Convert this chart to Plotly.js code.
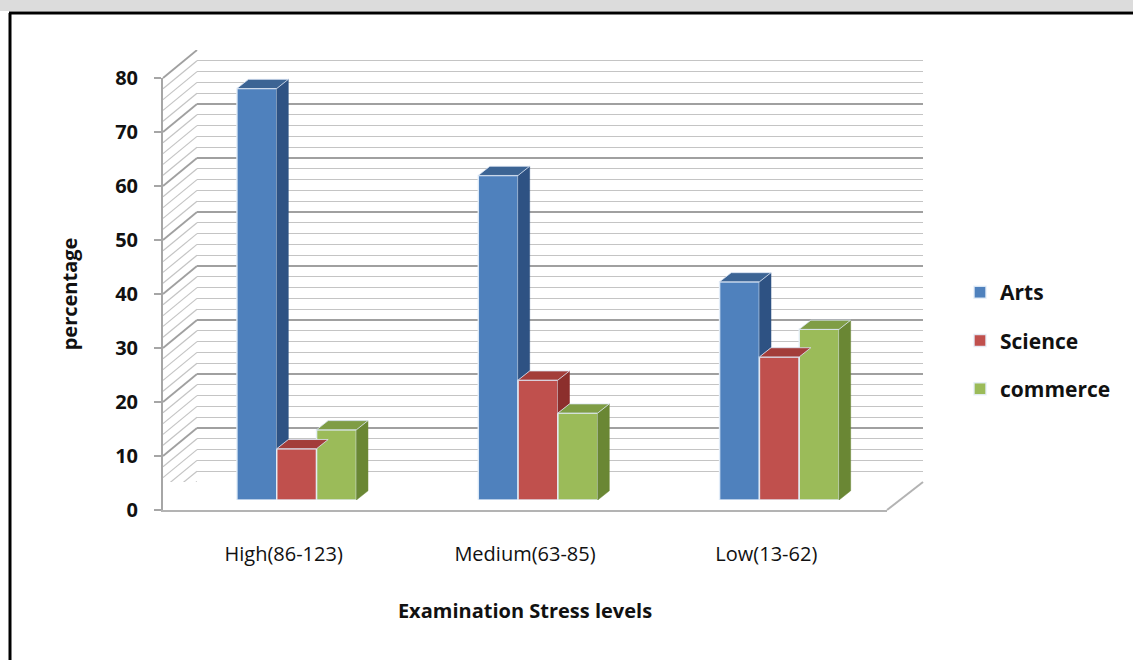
<!DOCTYPE html>
<html>
<head>
<meta charset="utf-8">
<script src="https://cdn.plot.ly/plotly-3.0.1.min.js"></script>
<style>html,body{margin:0;padding:0;background:#fff;overflow:hidden;}#chart{width:1133px;height:660px;}</style>
</head>
<body>
<div id="chart"></div>
<script>
// ---- data ----
const categories = ['High(86-123)', 'Medium(63-85)', 'Low(13-62)'];
const seriesNames = ['Arts', 'Science', 'commerce'];
const arts = [76.2, 60.1, 40.4];
const science = [9.5, 22.2, 26.5];
const commerce = [13.0, 16.1, 31.6];
const yTicks = [0, 10, 20, 30, 40, 50, 60, 70, 80];

// ---- styling / layout helpers ----
const seriesValues = [arts, science, commerce];
const frontColors = ['#4f81bd', '#c0504d', '#9bbb59'];
const sideColors = ['#2e5283', '#8c2f2c', '#6a8734'];
const topColors = ['#3c6494', '#a33d3a', '#7f9d45'];

const W = 1133, H = 660, ML = 150, MR = 200, MT = 40, MB = 140;
const PW = W - ML - MR, PH = H - MT - MB;
const px = x => (x - ML) / PW;
const py = y => (H - MB - y) / PH;

const idx = categories.map((c, i) => i);
const bw = 0.165;      // bar slot width (category units)
const dx = 0.048;      // depth offset in x (category units)
const dy = 1.7;        // depth offset in y (value units)

const traces = [];
traces.push({type: 'scatter', x: [null], y: [null], xaxis: 'x', yaxis: 'y', showlegend: false, hoverinfo: 'skip'});
traces.push({type: 'scatter', x: [null], y: [null], xaxis: 'x2', yaxis: 'y2', showlegend: false, hoverinfo: 'skip'});

seriesNames.forEach((name, k) => {
  traces.push({
    type: 'bar', name: name, x: idx, y: seriesValues[k],
    xaxis: 'x3', yaxis: 'y3', width: bw, offset: -1.5 * bw + k * bw,
    legendgroup: name,
    marker: {color: frontColors[k], line: {color: 'rgba(230,240,250,0.9)', width: 1.5}},
    hovertemplate: name + ': %{y}<extra></extra>'
  });
});

seriesNames.forEach((name, k) => {
  const vals = seriesValues[k];
  const sx = [], sy = [], tx = [], ty = [];
  idx.forEach(i => {
    const xl = i - 1.5 * bw + k * bw;
    const xr = xl + bw;
    const h = vals[i];
    let yb = 0;
    if (k < seriesValues.length - 1) yb = seriesValues[k + 1][i];
    if (yb < h) {
      sx.push(xr, xr, xr + dx, xr + dx, xr, null);
      sy.push(yb, h, h + dy, yb + dy, yb, null);
    }
    tx.push(xl, xr, xr + dx, xl + dx, xl, null);
    ty.push(h, h, h + dy, h + dy, h, null);
  });
  traces.push({type: 'scatter', mode: 'lines', x: sx, y: sy, xaxis: 'x3', yaxis: 'y3',
    fill: 'toself', fillcolor: sideColors[k], line: {width: 0.5, color: sideColors[k]},
    showlegend: false, hoverinfo: 'skip'});
  traces.push({type: 'scatter', mode: 'lines', x: tx, y: ty, xaxis: 'x3', yaxis: 'y3',
    fill: 'toself', fillcolor: topColors[k], line: {width: 1, color: 'rgba(220,230,245,0.8)'},
    showlegend: false, hoverinfo: 'skip'});
});

const shapes = [];
// top grey band
shapes.push({type: 'rect', xref: 'paper', yref: 'paper', x0: px(0), x1: px(W + 20), y0: py(11), y1: py(-5),
  fillcolor: '#dcdcdc', line: {width: 0}, layer: 'below'});
// chart border (only left and top edges are inside the picture)
shapes.push({type: 'line', xref: 'paper', yref: 'paper', x0: px(10), x1: px(10), y0: py(H + 20), y1: py(13),
  line: {color: '#000', width: 3}});
shapes.push({type: 'line', xref: 'paper', yref: 'paper', x0: px(9), x1: px(W + 20), y0: py(13), y1: py(13),
  line: {color: '#000', width: 3}});
// white strip at the right edge (the frame continues beyond the picture)
shapes.push({type: 'rect', xref: 'paper', yref: 'paper', x0: px(W - 8), x1: px(W + 20), y0: py(H + 20), y1: py(15),
  fillcolor: '#ffffff', line: {width: 0}, layer: 'above'});
// left side wall diagonals
for (let v = 0; v <= 80; v += 2) {
  const major = v % 10 === 0;
  shapes.push({type: 'line', xref: 'paper', x0: px(163), x1: px(197), yref: 'y2', ysizemode: 'pixel',
    yanchor: v, y0: -28, y1: 0, layer: 'below',
    line: {color: major ? '#a0a0a0' : '#c4c4c4', width: major ? 1.8 : 1.2}});
}
// floor right edge
shapes.push({type: 'line', xref: 'paper', yref: 'paper', x0: px(887), y0: py(510), x1: px(923), y1: py(482),
  line: {color: '#b3b3b3', width: 2}, layer: 'below'});

const font = 'Open Sans, Noto Sans, sans-serif';
const layout = {
  width: W, height: H,
  margin: {l: ML, r: MR, t: MT, b: MB},
  paper_bgcolor: '#ffffff', plot_bgcolor: 'rgba(0,0,0,0)',
  font: {family: font, color: '#111'},
  barmode: 'overlay',
  showlegend: true,
  legend: {x: px(960), y: py(272), xanchor: 'left', yanchor: 'top',
    font: {size: 21, weight: 'bold', color: '#111'}, tracegroupgap: 18, bgcolor: 'rgba(0,0,0,0)', borderwidth: 0},
  xaxis: {domain: [px(163), px(887)], range: [-0.5, 2.5], anchor: 'y',
    tickvals: idx, ticktext: categories, ticks: '', showgrid: false, zeroline: false,
    showline: true, linecolor: '#b3b3b3', linewidth: 2, tickfont: {size: 20, color: '#111'},
    ticklabelstandoff: 25,
    title: {text: 'Examination Stress levels', font: {size: 20, weight: 'bold', color: '#111'}, standoff: 38},
    fixedrange: true},
  yaxis: {domain: [py(510), py(78)], range: [0, 80], anchor: 'x',
    tickvals: yTicks, ticks: 'outside', ticklen: 7, tickcolor: '#a6a6a6', tickwidth: 1.5,
    showgrid: false, zeroline: false, showline: true, linecolor: '#a6a6a6', linewidth: 2,
    tickfont: {size: 20, weight: 'bold', color: '#111'}, ticklabelstandoff: 12,
    title: {text: 'percentage', font: {size: 20, weight: 'bold', color: '#111'}, standoff: 32},
    fixedrange: true},
  xaxis2: {domain: [px(197), px(923)], range: [0, 1], anchor: 'y2', showgrid: false,
    showticklabels: false, zeroline: false, showline: false, ticks: '', fixedrange: true},
  yaxis2: {domain: [py(482), py(50)], range: [0, 80], anchor: 'x2', dtick: 10,
    showgrid: true, gridcolor: '#a0a0a0', gridwidth: 1.8,
    minor: {dtick: 2, showgrid: true, gridcolor: '#c4c4c4', gridwidth: 1.2},
    showticklabels: false, zeroline: false, showline: false, ticks: '', fixedrange: true},
  xaxis3: {domain: [px(176), px(900)], range: [-0.5, 2.5], anchor: 'y3', showgrid: false,
    showticklabels: false, zeroline: false, showline: false, ticks: '', fixedrange: true},
  yaxis3: {domain: [py(500), py(68)], range: [0, 80], anchor: 'x3', showgrid: false,
    showticklabels: false, zeroline: false, showline: false, ticks: '', fixedrange: true},
  shapes: shapes
};

Plotly.newPlot('chart', traces, layout, {displayModeBar: false, staticPlot: true});
</script>
</body>
</html>
